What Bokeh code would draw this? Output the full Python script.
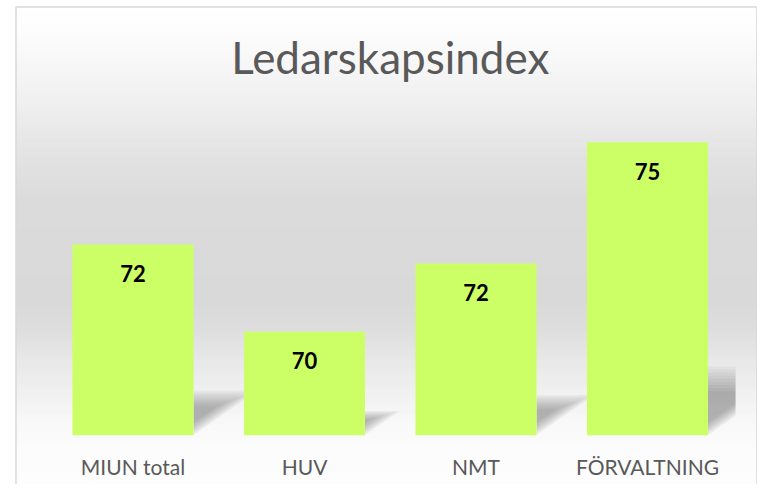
import numpy as np
from bokeh.plotting import figure
from bokeh.models import Range1d, Label
from bokeh.core.properties import value
from bokeh.embed import file_html
from bokeh.resources import INLINE

# ---- data ----
categories = ["MIUN total", "HUV", "NMT", "FÖRVALTNING"]
values = [72.3, 70.0, 71.8, 75.0]
value_labels = ["72", "70", "72", "75"]
title_text = "Ledarskapsindex"

# ---- layout constants ----
W, H = 757, 484
BASE = 67.27
STEP_PX = 171.5          # pixels per category
UNIT_PX = 37.92          # pixels per value unit
X0 = -132.5 / STEP_PX
X1 = X0 + W / STEP_PX
Y1 = 70 + 331.3 / UNIT_PX
Y0 = Y1 - H / UNIT_PX


def xpx(px):
    return X0 + px / STEP_PX


def ypx(py):
    return Y1 - py / UNIT_PX


def to_px_x(x):
    return (x - X0) * STEP_PX


def to_px_y(y):
    return (Y1 - y) * UNIT_PX


xs = list(range(len(categories)))
BAR_W = 0.706

p = figure(width=W, height=H, x_range=Range1d(X0, X1), y_range=Range1d(Y0, Y1),
           toolbar_location=None, output_backend="svg", min_border=0,
           x_axis_type=None, y_axis_type=None)
p.grid.visible = False
p.outline_line_color = None
p.background_fill_color = "white"
p.border_fill_color = "white"

# ---- background gradient (stacked, top to bottom, to avoid seams) ----
stops_y = [6, 35, 100, 150, 200, 300, 330, 360, 390, 420, 450, 492]
stops_g = [255, 252, 240, 228, 219, 217, 222, 232, 240, 248, 252, 253]
edges = np.linspace(7, 484, 160)
lefts, rights, tops, bottoms, cols = [], [], [], [], []
for a, b in zip(edges[:-1], edges[1:]):
    g = int(round(np.interp((a + b) / 2, stops_y, stops_g)))
    lefts.append(xpx(16))
    rights.append(xpx(756))
    tops.append(ypx(a))
    bottoms.append(ypx(484))
    cols.append("#%02x%02x%02x" % (g, g, g))
p.quad(left=lefts, right=rights, top=tops, bottom=bottoms, fill_color=cols, line_color=None)

# ---- border ----
p.line(x=[xpx(15.5), xpx(15.5), xpx(756.5), xpx(756.5)],
       y=[ypx(500), ypx(6.5), ypx(6.5), ypx(500)], line_color="#d9d9d9", line_width=1.5)

# ---- shadows ----
PLOT_RIGHT = 735
SLOPE = 0.7
for xi, v in zip(xs, values):
    xr = to_px_x(xi + BAR_W / 2)
    by = to_px_y(BASE)
    hs = 0.235 * (v - BASE) * UNIT_PX
    for k in range(9):
        top = by - hs * (1 - 0.045 * k)
        off = 1.6 * k
        L = (by - off - top) / SLOPE
        xe = min(xr + L, PLOT_RIGHT)
        pts = [(xr, by - off), (xr, top), (xe, top),
               (xe, by - off - SLOPE * (xe - xr))]
        p.patch(x=[xpx(a) for a, _ in pts], y=[ypx(b) for _, b in pts],
                fill_color="#555555", fill_alpha=0.06, line_color=None)

# ---- bars ----
p.vbar(x=xs, top=values, bottom=BASE, width=BAR_W, fill_color="#CCFF66", line_color=None)

# ---- value labels ----
p.text(x=xs, y=values, text=value_labels, y_offset=29, text_align="center",
       text_baseline="middle", text_font=value("Lato"), text_font_style="bold",
       text_font_size="22px", text_color="black")

# ---- category labels ----
p.text(x=xs, y=[BASE] * len(xs), text=categories, y_offset=31, text_align="center",
       text_baseline="middle", text_font=value("Lato"), text_font_size="21px",
       text_color="#595959")

# ---- title ----
p.add_layout(Label(x=float(np.mean(xs)), y=ypx(56), text=title_text, text_align="center",
                   text_baseline="middle", text_font="Lato", text_font_size="44px",
                   text_color="#595959"))

open("out.html", "w").write(file_html(p, INLINE))
